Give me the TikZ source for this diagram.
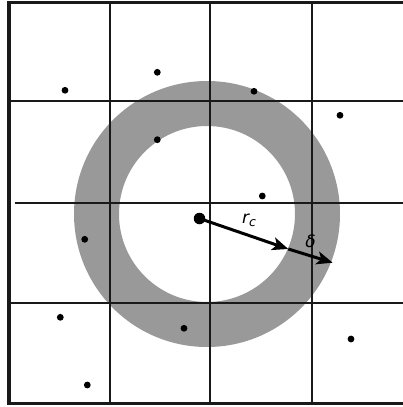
\documentclass[tikz,border=0pt]{standalone}
\usepackage{fontspec}
\setmainfont{DejaVu Sans}
\usetikzlibrary{arrows.meta}
\begin{document}
\begin{tikzpicture}[x=1pt,y=-1pt,
  gridline/.style={line width=2pt,black!90},
  frameline/.style={line width=3.2pt,black!90},
  pt/.style={circle,fill=black,inner sep=0pt,minimum size=6.8pt},
  bigpt/.style={circle,fill=black,inner sep=0pt,minimum size=11.5pt},
  radarrow/.style={line width=3pt,-{Stealth[length=16pt,width=13pt,inset=4pt]}},
  lbl/.style={inner sep=0pt,font=\fontsize{17}{17}\selectfont\itshape}]
\useasboundingbox (0,0) rectangle (403,407);
% ring
\fill[black!40,even odd rule] (207,214) circle[radius=133] (207,214) circle[radius=88];
% grid
\draw[gridline] (110,2) -- (110,404);
\draw[gridline] (210,2) -- (210,404);
\draw[gridline] (312,2) -- (312,404);
\draw[gridline] (9,101) -- (403,101);
\draw[gridline] (15,203) -- (403,203);
\draw[gridline] (9,303) -- (403,303);
% frame
\draw[frameline] (9,2.5) -- (404,2.5);
\draw[frameline] (9,1) -- (9,405.3);
\draw[frameline] (9,403.7) -- (404,403.7);
% points
\node[pt] (p1) at (65,90.3) {};
\node[pt] (p2) at (157.3,72.3) {};
\node[pt] (p3) at (254,91.3) {};
\node[pt] (p4) at (340,115.3) {};
\node[pt] (p5) at (157.3,139.7) {};
\node[pt] (p6) at (262.3,196) {};
\node[pt] (p7) at (84.7,239.3) {};
\node[pt] (p8) at (60.3,317.3) {};
\node[pt] (p9) at (184,328.3) {};
\node[pt] (p10) at (351,339) {};
\node[pt] (p11) at (87.3,385) {};
\node[bigpt] (c) at (199.5,218.5) {};
\coordinate (a1) at (288.3,249);
\coordinate (a2) at (332.7,262.7);
\draw[radarrow] (c.center) -- (a1);
\draw[radarrow] (a1) -- (a2);
\node[lbl] (rc) at (249,220) {r\raisebox{-3pt}{\fontsize{12.5}{12.5}\selectfont c}};
\node[lbl] (dl) at (310.5,241) {δ};
\end{tikzpicture}
\end{document}
